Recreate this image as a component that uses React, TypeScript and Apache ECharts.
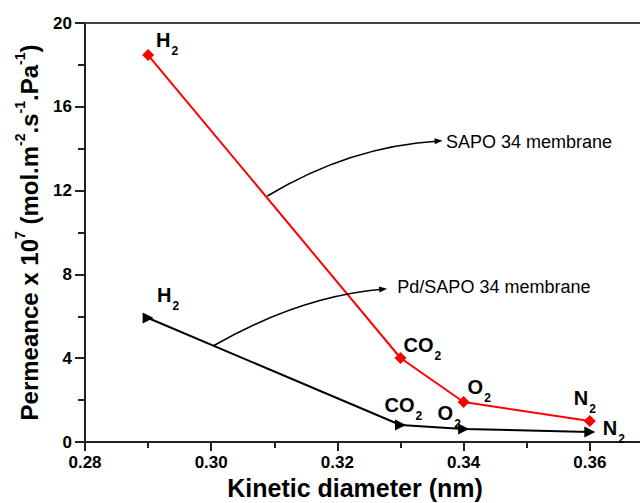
import React, { useEffect, useRef } from 'react';
import * as echarts from 'echarts';

// ---- data ----
const kineticDiameters = [0.29, 0.33, 0.34, 0.36];
const gasMain = ['H', 'CO', 'O', 'N'];
const gasSub = ['2', '2', '2', '2'];
const sapoPermeance = [18.47, 4.01, 1.91, 1.0];
const pdSapoPermeance = [5.92, 0.81, 0.62, 0.48];

// label offsets (style only)
const sapoLabelOffsets = [[8, -25], [3, -23], [4, -25], [-16, -33]];
const pdLabelOffsets = [[9, -33], [-16, -30], [-26, -26], [13, -14]];

// annotations in data space
const sapoNote = { text: 'SAPO 34 membrane', at: [0.3372, 14.3], from: [0.3089, 11.74], ctrl: [0.322, 14.13], to: [0.3362, 14.37] };
const pdNote = { text: 'Pd/SAPO 34 membrane', at: [0.3295, 7.42], from: [0.3003, 4.58], ctrl: [0.3141, 6.97], to: [0.3274, 7.3] };

const FONT = '"Liberation Sans", Arial, Helvetica, sans-serif';

const gasRich = {
  m: { fontSize: 20, fontWeight: 'bold', fontFamily: FONT, color: '#000', verticalAlign: 'top' },
  s: { fontSize: 12, fontWeight: 'bold', fontFamily: FONT, color: '#000', verticalAlign: 'top', padding: [15, 0, 0, 1] },
};

function buildData(values: number[], offsets: number[][]) {
  return kineticDiameters.map((x, i) => ({
    value: [x, values[i]],
    label: {
      show: true,
      position: 'inside',
      align: 'left',
      verticalAlign: 'top',
      offset: offsets[i],
      formatter: `{m|${gasMain[i]}}{s|${gasSub[i]}}`,
      rich: gasRich,
    },
  }));
}

export default function App() {
  const ref = useRef<HTMLDivElement>(null);
  useEffect(() => {
    if (!ref.current) return;
    const chart = echarts.init(ref.current, undefined, { renderer: 'svg' });
    const axisLineStyle = { color: '#222', width: 2 };
    const option: any = {
      animation: false,
      backgroundColor: '#fff',
      grid: { left: 85, top: 23, right: -76, bottom: 61, containLabel: false, outerBoundsMode: 'none' },
      xAxis: [
        {
          type: 'value',
          min: 0.28,
          max: 0.38,
          interval: 0.02,
          position: 'bottom',
          name: 'Kinetic diameter (nm)',
          nameLocation: 'middle',
          nameGap: 27,
          nameTextStyle: { fontSize: 25, fontWeight: 'bold', fontFamily: FONT, color: '#000', padding: [0, 91, 0, 0] },
          axisLine: { show: true, onZero: false, lineStyle: axisLineStyle },
          axisTick: { show: true, inside: false, length: 9, lineStyle: { color: '#222', width: 2 } },
          minorTick: { show: true, splitNumber: 2, length: 6, lineStyle: { color: '#222', width: 2 } },
          axisLabel: {
            margin: 12,
            fontSize: 17,
            fontWeight: 'bold',
            fontFamily: FONT,
            color: '#000',
            showMaxLabel: false,
            formatter: (v: number) => (v > 0.365 ? '' : v.toFixed(2)),
          },
          splitLine: { show: false },
          minorSplitLine: { show: false },
        },
        {
          type: 'value',
          min: 0.28,
          max: 0.38,
          interval: 0.02,
          position: 'top',
          axisLine: { show: true, onZero: false, lineStyle: { color: '#444', width: 2 } },
          axisTick: { show: false },
          axisLabel: { show: false },
          splitLine: { show: false },
        },
      ],
      yAxis: {
        type: 'value',
        min: 0,
        max: 20,
        interval: 4,
        name: '{b|Permeance x 10}{p|7}{b| (mol.m}{p|-2}{b|.s}{p|-1}{b|.Pa}{p|-1}{b|)}',
        nameLocation: 'middle',
        nameGap: 44,
        nameTextStyle: {
          rich: {
            b: { fontSize: 24, fontWeight: 'bold', fontFamily: FONT, color: '#000', verticalAlign: 'top', padding: [4, 0, 0, 0] },
            p: { fontSize: 14, fontWeight: 'bold', fontFamily: FONT, color: '#000', verticalAlign: 'top' },
          },
        },
        axisLine: { show: true, onZero: false, lineStyle: axisLineStyle },
        axisTick: { show: true, inside: false, length: 10, lineStyle: { color: '#222', width: 2 } },
        minorTick: { show: true, splitNumber: 2, length: 7, lineStyle: { color: '#222', width: 2 } },
        axisLabel: { margin: 13, fontSize: 17, fontWeight: 'bold', fontFamily: FONT, color: '#000' },
        splitLine: { show: false },
        minorSplitLine: { show: false },
      },
      series: [
        {
          name: 'SAPO 34 membrane',
          type: 'line',
          xAxisIndex: 0,
          data: buildData(sapoPermeance, sapoLabelOffsets),
          symbol: 'diamond',
          symbolSize: 12,
          lineStyle: { color: '#ff0000', width: 2 },
          itemStyle: { color: '#ff0000' },
          z: 3,
        },
        {
          name: 'Pd/SAPO 34 membrane',
          type: 'line',
          xAxisIndex: 0,
          data: buildData(pdSapoPermeance, pdLabelOffsets),
          symbol: 'triangle',
          symbolRotate: -90,
          symbolSize: 11,
          lineStyle: { color: '#000', width: 2 },
          itemStyle: { color: '#000' },
          z: 3,
        },
      ],
    };
    chart.setOption(option);

    const px = (p: number[]) => chart.convertToPixel({ xAxisIndex: 0, yAxisIndex: 0 }, p) as number[];
    const makeNote = (note: any) => {
      const a = px(note.from);
      const c = px(note.ctrl);
      const b = px(note.to);
      const t = px(note.at);
      const dx = b[0] - c[0];
      const dy = b[1] - c[1];
      const len = Math.hypot(dx, dy) || 1;
      const ux = dx / len;
      const uy = dy / len;
      const headLen = 8;
      const headW = 3;
      const tip = [b[0] + ux * 3, b[1] + uy * 3];
      const base = [tip[0] - ux * headLen, tip[1] - uy * headLen];
      return [
        {
          type: 'bezierCurve',
          shape: { x1: a[0], y1: a[1], cpx1: c[0], cpy1: c[1], x2: b[0], y2: b[1] },
          style: { stroke: '#000', lineWidth: 1.6, fill: null },
          z: 10,
        },
        {
          type: 'polygon',
          shape: {
            points: [
              tip,
              [base[0] - uy * headW, base[1] + ux * headW],
              [base[0] + uy * headW, base[1] - ux * headW],
            ],
          },
          style: { fill: '#000' },
          z: 10,
        },
        {
          type: 'text',
          x: t[0],
          y: t[1],
          style: {
            text: note.text,
            fontSize: 18,
            fontFamily: FONT,
            fill: '#000',
            align: 'left',
            verticalAlign: 'middle',
          },
          z: 10,
        },
      ];
    };
    chart.setOption({ graphic: [...makeNote(sapoNote), ...makeNote(pdNote)] });

    return () => chart.dispose();
  }, []);
  return <div ref={ref} style={{ position: 'absolute', left: 0, top: 0, width: 640, height: 503 }} />;
}
